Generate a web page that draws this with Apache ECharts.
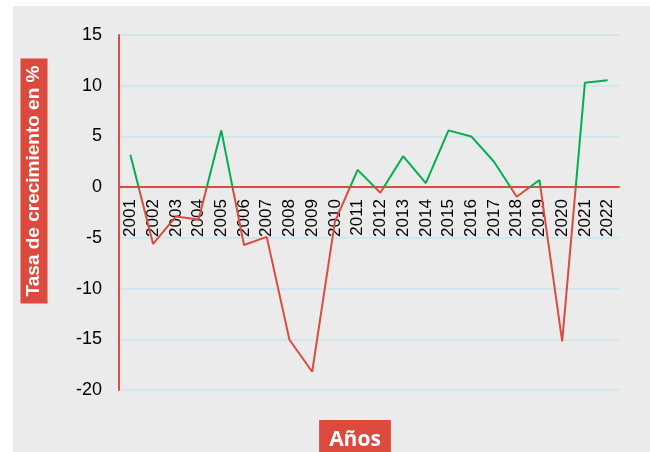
<!DOCTYPE html>
<html>
<head>
<meta charset="utf-8">
<script src="https://cdn.jsdelivr.net/npm/echarts@6/dist/echarts.min.js"></script>
<style>
  html, body { margin: 0; padding: 0; background: #ffffff; }
  #wrap { position: relative; width: 650px; height: 452px; overflow: hidden; }
  #panel { position: absolute; left: 13px; top: 6px; right: 0; bottom: 0; background: #ebebeb; }
  #chart { position: absolute; left: 0; top: 0; width: 650px; height: 452px; }
</style>
</head>
<body>
<div id="wrap">
  <div id="panel"></div>
  <div id="chart"></div>
</div>
<script>
// Annual growth rate, 2001-2022
const years = ['2001','2002','2003','2004','2005','2006','2007','2008','2009','2010','2011',
               '2012','2013','2014','2015','2016','2017','2018','2019','2020','2021','2022'];
const growth = [3.2, -5.6, -2.9, -3.2, 5.6, -5.7, -4.9, -15.05, -18.2, -3.4, 1.7,
                -0.55, 3.05, 0.4, 5.6, 5.0, 2.5, -0.95, 0.7, -15.2, 10.3, 10.55];
const yTicks = { min: -20, max: 15, step: 5 };
const yTitle = 'Tasa de crecimiento en %';
const xTitle = 'Años';

const RED = '#de4a3d';
const GREEN = '#00b04f';
const AXIS_RED = '#da4d44';
const GRID_BLUE = '#d3e6ee';

const chart = echarts.init(document.getElementById('chart'), null, { renderer: 'canvas' });
chart.setOption({
  backgroundColor: 'transparent',
  animation: false,
  grid: { left: 119, right: 31, top: 35, bottom: 62 },
  xAxis: {
    type: 'category',
    data: years,
    boundaryGap: true,
    axisLine: { onZero: false, lineStyle: { color: AXIS_RED, width: 2 } },
    axisTick: { show: false },
    axisLabel: {
      rotate: 90, margin: 12, interval: 0,
      color: '#000', fontSize: 17, fontFamily: 'Liberation Sans, Arial, sans-serif'
    },
    splitLine: { show: false },
    z: 4
  },
  yAxis: {
    type: 'value',
    min: yTicks.min, max: yTicks.max, interval: yTicks.step,
    axisLine: { show: true, onZero: false, lineStyle: { color: AXIS_RED, width: 2 } },
    axisTick: { show: false },
    axisLabel: {
      margin: 17, color: '#000', fontSize: 18, fontFamily: 'Liberation Sans, Arial, sans-serif'
    },
    splitLine: { show: true, lineStyle: { color: GRID_BLUE, width: 2 } }
  },
  visualMap: {
    show: false,
    type: 'piecewise',
    dimension: 1,
    seriesIndex: 0,
    pieces: [
      { gt: 0, lte: 100, color: GREEN },
      { gte: -100, lte: 0, color: RED }
    ],
    outOfRange: { color: RED }
  },
  series: [{
    type: 'line',
    data: growth,
    symbol: 'none',
    lineStyle: { width: 2 },
    z: 5
  }],
  graphic: [
    {
      type: 'text',
      x: 34, y: 181,
      rotation: Math.PI / 2,
      z: 10,
      style: {
        text: yTitle,
        fill: '#ffffff',
        font: 'bold 19px "Liberation Sans", Arial, sans-serif',
        align: 'center',
        verticalAlign: 'middle',
        backgroundColor: '#dc4a3e',
        padding: [4, 7, 4, 7]
      }
    },
    {
      type: 'text',
      x: 355, y: 440,
      z: 10,
      style: {
        text: xTitle,
        fill: '#ffffff',
        font: 'bold 21px "Open Sans", "Noto Sans", sans-serif',
        align: 'center',
        verticalAlign: 'middle',
        backgroundColor: '#dc4a3e',
        padding: [7, 10, 12, 10]
      }
    }
  ]
});

// Lift the category axis (line and year labels) up to the zero level of the value axis.
const yZero = chart.convertToPixel({ yAxisIndex: 0 }, 0);
const yBottom = chart.convertToPixel({ yAxisIndex: 0 }, yTicks.min);
chart.setOption({ xAxis: { offset: yZero - yBottom } });
</script>
</body>
</html>
